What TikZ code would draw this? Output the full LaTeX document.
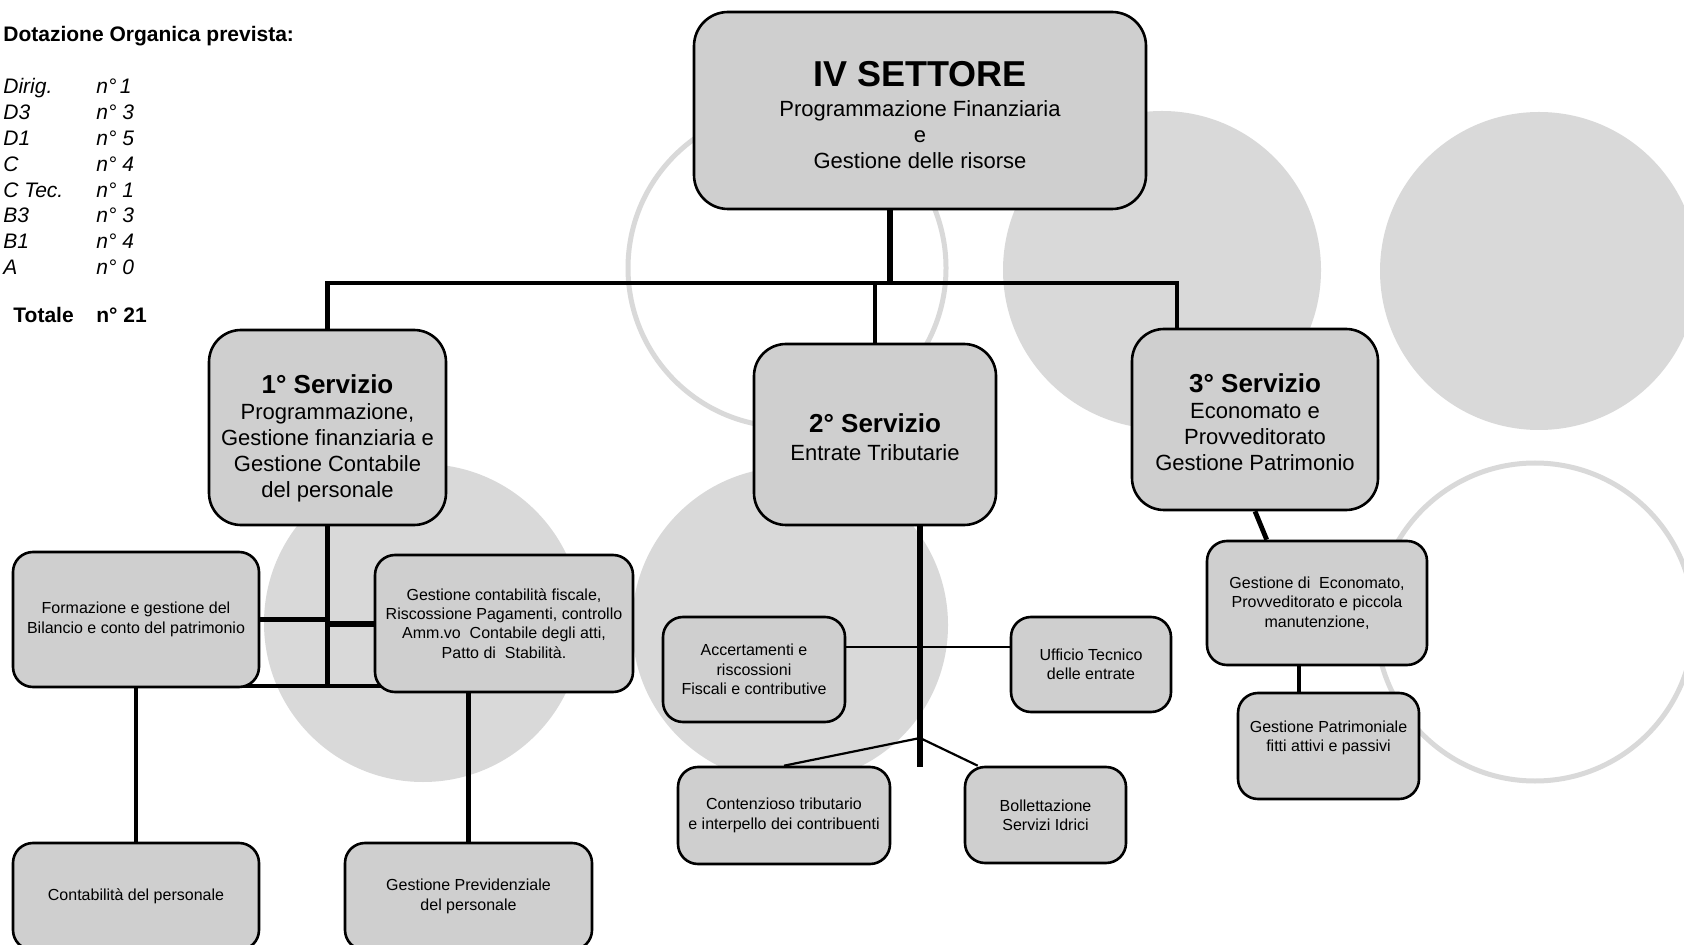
\documentclass[tikz,border=0pt]{standalone}
\usepackage{fontspec}
\setmainfont{Liberation Sans}
\definecolor{boxgray}{gray}{0.81}
\definecolor{ringgray}{gray}{0.85}
\pgfdeclarelayer{rings}
\pgfdeclarelayer{links}
\pgfsetlayers{rings,links,main}
\begin{document}
\begin{tikzpicture}[x=0.5pt,y=-0.5pt,
				every node/.style={align=center,inner sep=0pt},
				unit/.style={draw,line width=1.3pt,fill=boxgray,rounded corners=10pt},
				head/.style={unit,rounded corners=16pt,font=\fontsize{11}{13}\selectfont},
				office/.style={unit,font=\fontsize{8}{9.65}\selectfont},
				staff/.style={anchor=base west,font=\itshape\fontsize{10.5}{12}\selectfont},
				trunk/.style={line width=2.4pt},
				twig/.style={line width=1.1pt},
				disc/.style={fill=ringgray},
				ring/.style={draw=ringgray,line width=2.5pt}]
\useasboundingbox (0,0) rectangle (1684,945);
% staff table
\node[anchor=base west,font=\bfseries\fontsize{10.5}{12}\selectfont] (dotaz) at (3,42) {Dotazione Organica prevista:};
\foreach \lab/\num [count=\k from 0] in {Dirig./n°\,1, D3/n° 3, D1/n° 5, C/n° 4, C Tec./n° 1, B3/n° 3, B1/n° 4, A/n° 0} {
	\node[staff] (lab\k) at (3,94+25.8*\k) {\lab};
	\node[staff] (num\k) at (96,94+25.8*\k) {\num};
}
\node[anchor=base west,font=\bfseries\fontsize{10.5}{12}\selectfont] (tot) at (13,323) {Totale};
\node[anchor=base west,font=\bfseries\fontsize{10.5}{12}\selectfont] (totnum) at (96,323) {n° 21};
% sector and services
\node[head,minimum width=226pt,minimum height=98.5pt,rounded corners=17pt] (settore) at (920,110.5)
	{{\fontsize{18}{20}\selectfont\bfseries\rule{0pt}{17pt}IV SETTORE}\\[2pt] Programmazione Finanziaria\\ e\\ Gestione delle risorse};
\node[head,minimum width=118.5pt,minimum height=97.5pt] (s1) at (327.5,427.5)
	{{\fontsize{13}{13}\selectfont\bfseries\rule{0pt}{20.5pt}1° Servizio}\\ Programmazione,\\ Gestione finanziaria e\\ Gestione Contabile\\ del personale};
\node[head,minimum width=121pt,minimum height=90.5pt] (s2) at (875,434.5)
	{{\fontsize{13}{13}\selectfont\bfseries\rule{0pt}{12.5pt}2° Servizio}\\[1pt] Entrate Tributarie};
\node[head,minimum width=123pt,minimum height=90.5pt] (s3) at (1255,419.5)
	{{\fontsize{13}{13}\selectfont\bfseries\rule{0pt}{12pt}3° Servizio}\\ Economato e\\ Provveditorato\\ Gestione Patrimonio};
% offices
\node[office,minimum width=123pt,minimum height=67.5pt] (form) at (136,619.5) {Formazione e gestione del\\ Bilancio e conto del patrimonio};
\node[office,minimum width=129pt,minimum height=68.5pt] (fisc) at (504,623.5) {Gestione contabilità fiscale,\\ Riscossione Pagamenti, controllo\\ Amm.vo\ \ Contabile degli atti,\\ Patto di\ \ Stabilità.};
\node[office,minimum width=123pt,minimum height=53.5pt] (cpers) at (136,896.5) {Contabilità del personale};
\node[office,minimum width=123.5pt,minimum height=53.5pt] (prev) at (468.5,896.5) {Gestione Previdenziale\\ del personale};
\node[office,minimum width=91pt,minimum height=52.5pt] (acc) at (754,669.5) {Accertamenti e\\ riscossioni\\ Fiscali e contributive};
\node[office,minimum width=80pt,minimum height=47.5pt] (uff) at (1091,664.5) {Ufficio Tecnico\\ delle entrate};
\node[office,minimum width=106pt,minimum height=48.5pt] (cont) at (784,815.5) {Contenzioso tributario\\ e interpello dei contribuenti};
\node[office,minimum width=80.5pt,minimum height=48pt] (boll) at (1045.5,815) {Bollettazione\\ Servizi Idrici};
\node[office,minimum width=110pt,minimum height=62pt] (econ) at (1317,603) {Gestione di\ \ Economato,\\ Provveditorato e piccola\\ manutenzione,};
\node[office,minimum width=90.5pt,minimum height=53pt] (patr) at (1328.5,746) {Gestione Patrimoniale\\ fitti attivi e passivi\\ \mbox{}};
% background circles
\begin{pgfonlayer}{rings}
\fill[white] (0,0) rectangle (1684,945);
\fill[disc] (1162,270) circle (79.5pt);
\fill[disc] (1539,271) circle (79.5pt);
\fill[disc] (423,623) circle (79.5pt);
\fill[disc] (790,625) circle (79pt);
\draw[ring] (787,268) circle (79.5pt);
\draw[ring] (1535,622) circle (79.5pt);
\end{pgfonlayer}
% connectors
\begin{pgfonlayer}{links}
\coordinate (hub) at (890,283);
\coordinate (hubR) at (1177,283);
\draw[trunk,line width=2.8pt] (settore.south -| hub) -- (hub);
\draw[trunk] (s1.north) -- (s1.north |- hub) -- (hubR) -- (hubR |- s3.north);
\draw[trunk] (s2.north) -- (s2.north |- hub);
% 1st service
\coordinate (s1foot) at (327.5,686);
\draw[trunk] (s1.south) -- (s1foot);
\draw[trunk] (form.east) -- (form.east -| s1foot);
\draw[trunk,line width=3pt] (fisc.west) -- (fisc.west -| s1foot);
\draw[trunk] (cpers.north) -- (cpers.north |- s1foot) -- (prev.north |- s1foot) -- (prev.north);
% 2nd service
\coordinate (s2foot) at (920,767);
\coordinate (s2fork) at (920,738);
\coordinate (s2cross) at (920,647);
\draw[line width=3.2pt] (s2.south -| s2foot) -- (s2foot);
\draw[twig] (acc.east |- s2cross) -- (uff.west |- s2cross);
\draw[twig] (cont.north) -- (s2fork) -- ([xshift=7pt]boll.north west);
% 3rd service
\draw[trunk] (s3.south) -- ([xshift=30.5pt]econ.north west);
\draw[trunk] ([xshift=-9pt]econ.south) -- ([xshift=-9pt]econ.south |- patr.north);
\end{pgfonlayer}
\end{tikzpicture}
\end{document}
